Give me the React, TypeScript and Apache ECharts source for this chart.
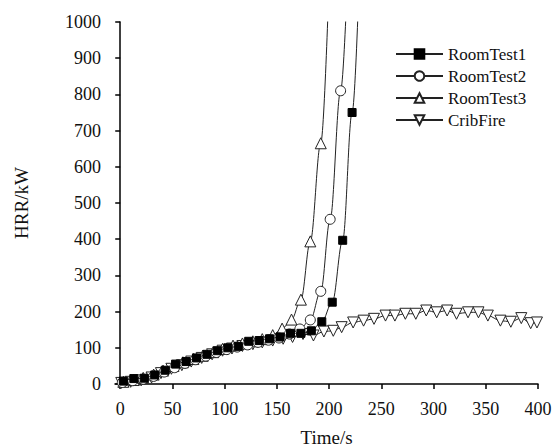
import React, { useEffect, useRef } from "react";
import * as echarts from "echarts";

const xTicks = [0, 50, 100, 150, 200, 250, 300, 350, 400];
const legendNames = ["RoomTest1", "RoomTest2", "RoomTest3", "CribFire"];

const room1T = [3, 13, 23, 33, 43, 53, 63, 73, 83, 93, 103, 113, 123, 133, 143, 153, 163, 173, 183, 193, 203, 213, 222, 232];
const room1V = [8, 15, 16, 25, 38, 55, 62, 72, 82, 92, 100, 104, 118, 120, 125, 130, 140, 140, 147, 172, 226, 397, 750, 1400];

const room2T = [2, 12, 22, 32, 42, 52, 62, 72, 82, 92, 102, 112, 122, 132, 142, 152, 162, 172, 182, 192, 201, 211, 220];
const room2V = [4, 9, 13, 21, 33, 45, 57, 67, 77, 87, 95, 102, 108, 115, 121, 127, 138, 152, 177, 256, 455, 810, 1300];

const room3T = [3, 13, 22, 32, 41, 51, 60, 70, 79, 89, 98, 108, 117, 127, 136, 146, 155, 164, 173, 182, 192, 201];
const room3V = [6, 11, 17, 26, 37, 50, 60, 69, 78, 88, 97, 106, 112, 118, 124, 135, 153, 178, 233, 394, 665, 1200];

const cribT = [1, 10, 20, 30, 39, 49, 59, 68, 78, 88, 98, 107, 117, 127, 136, 146, 156, 165, 175, 185, 195, 204, 212, 223, 233, 243, 254, 263, 273, 283, 293, 303, 313, 322, 333, 343, 352, 364, 374, 384, 393, 399];
const cribV = [3, 6, 10, 18, 30, 42, 52, 62, 72, 82, 92, 98, 105, 110, 115, 120, 125, 130, 138, 134, 145, 147, 157, 170, 175, 180, 189, 189, 194, 194, 203, 198, 203, 194, 198, 198, 189, 175, 172, 182, 168, 170];

const zip = (t: number[], v: number[]) => t.map((x, i) => [x, v[i]]);

const FONT = "'Liberation Serif', 'Times New Roman', serif";

export default function App() {
  const ref = useRef<HTMLDivElement>(null);
  useEffect(() => {
    document.body.style.margin = "0";
    const chart = echarts.init(ref.current!, undefined, { renderer: "svg" });
    const lineStyle = { color: "#222", width: 1 };
    const base = {
      type: "line",
      smooth: 0.35,
      smoothMonotone: "x",
      symbolSize: 9,
      lineStyle,
      clip: true,
    };
    const tickRich = { t: { fontFamily: FONT, fontSize: 18, color: "#111" } };
    chart.setOption({
      animation: false,
      backgroundColor: "#fff",
      textStyle: { fontFamily: FONT },
      grid: { left: 115, right: 19, top: 22, bottom: 64, containLabel: false, outerBoundsMode: "none" },
      legend: {
        orient: "vertical",
        left: 395,
        top: 45,
        padding: 0,
        itemWidth: 47,
        itemHeight: 12,
        itemGap: 4,
        formatter: (n: string) => "{t|" + n + "}",
        textStyle: {
          fontFamily: FONT,
          fontSize: 17,
          color: "#111",
          lineHeight: 18,
          rich: { t: { fontFamily: FONT, fontSize: 17, color: "#111", lineHeight: 18 } },
        },
        data: legendNames,
      },
      xAxis: {
        type: "value",
        min: -5,
        max: 400,
        name: "Time/s",
        nameLocation: "middle",
        nameGap: 44,
        nameTextStyle: { fontFamily: FONT, fontSize: 19, color: "#111" },
        axisLine: { show: true, onZero: false, lineStyle: { color: "#000", width: 1.5 } },
        axisTick: { show: true, length: 5, customValues: xTicks, lineStyle: { color: "#000", width: 1.5 } },
        axisLabel: {
          customValues: xTicks,
          margin: 16,
          fontFamily: FONT,
          fontSize: 18,
          color: "#111",
          formatter: (v: number) => "{t|" + v + "}",
          rich: tickRich,
        },
        splitLine: { show: false },
      },
      yAxis: {
        type: "value",
        min: 0,
        max: 1000,
        interval: 100,
        name: "HRR/kW",
        nameLocation: "middle",
        nameGap: 84,
        nameRotate: 90,
        nameTextStyle: { fontFamily: FONT, fontSize: 19, color: "#111" },
        axisLine: { show: true, lineStyle: { color: "#000", width: 1.5 } },
        axisTick: { show: true, length: 5, lineStyle: { color: "#000", width: 1.5 } },
        axisLabel: {
          margin: 14,
          fontFamily: FONT,
          fontSize: 18,
          color: "#111",
          formatter: (v: number) => "{t|" + v + "}",
          rich: tickRich,
        },
        splitLine: { show: false },
      },
      series: [
        {
          ...base,
          name: "RoomTest1",
          symbol: "rect",
          symbolSize: 8,
          itemStyle: { color: "#000", borderColor: "#000", borderWidth: 1 },
          data: zip(room1T, room1V),
          z: 4,
        },
        {
          ...base,
          name: "RoomTest2",
          symbol: "circle",
          symbolSize: 10,
          itemStyle: { color: "#fff", borderColor: "#222", borderWidth: 1 },
          data: zip(room2T, room2V),
          z: 3,
        },
        {
          ...base,
          name: "RoomTest3",
          symbol: "triangle",
          symbolSize: 11,
          itemStyle: { color: "#fff", borderColor: "#222", borderWidth: 1 },
          data: zip(room3T, room3V),
          z: 2,
        },
        {
          ...base,
          name: "CribFire",
          symbol: "triangle",
          symbolRotate: 180,
          symbolSize: 11,
          itemStyle: { color: "#fff", borderColor: "#222", borderWidth: 1 },
          data: zip(cribT, cribV),
          z: 1,
        },
      ],
    });
    return () => chart.dispose();
  }, []);
  return <div ref={ref} style={{ position: "absolute", left: 0, top: 0, width: 557, height: 448 }} />;
}
